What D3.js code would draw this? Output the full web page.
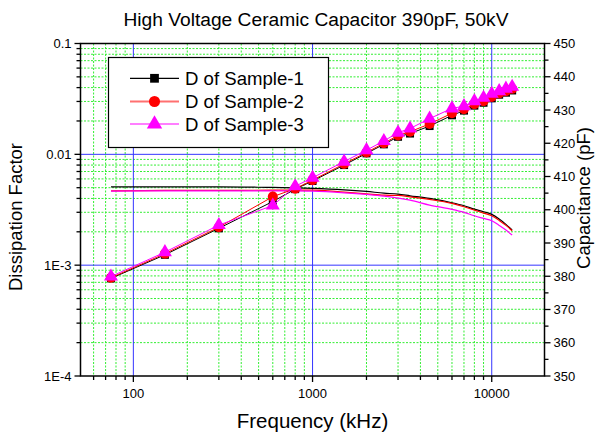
<!DOCTYPE html>
<html><head><meta charset="utf-8">
<script src="https://cdn.jsdelivr.net/npm/d3@7"></script>
<style>body{margin:0;background:#fff}svg{display:block}text{font-family:"Liberation Sans",Arial,sans-serif;fill:#000}</style>
</head><body>
<svg id="c" width="595" height="436"></svg>
<script>
const freq = [75,150,300,600,800,1000,1500,2000,2500,3000,3500,4500,6000,7000,8000,9000,10000,11000,12000,13000];
const dSample1 = [7.6e-4,1.24e-3,2.15e-3,3.75e-3,4.85e-3,5.75e-3,8.0e-3,0.0102,0.0123,0.0144,0.0154,0.018,0.0225,0.0248,0.0275,0.0292,0.032,0.0345,0.036,0.0377];
const dSample2 = [7.7e-4,1.27e-3,2.2e-3,4.15e-3,4.9e-3,5.85e-3,8.2e-3,0.0104,0.0126,0.0148,0.016,0.0188,0.0235,0.0256,0.0284,0.0302,0.033,0.0355,0.0372,0.039];
const dSample3 = [7.9e-4,1.31e-3,2.3e-3,3.45e-3,5.15e-3,6.15e-3,8.6e-3,0.0109,0.0132,0.0157,0.0171,0.021,0.026,0.0272,0.0302,0.0324,0.0352,0.0372,0.0391,0.0407];
const cSample1 = [406.9,406.9,406.9,406.7,406.6,406.45,406.0,405.5,405.0,404.7,404.2,403.4,402.1,401.2,400.2,399.4,398.6,397.2,395.6,393.9];
const cSample2 = [405.7,405.8,405.8,405.9,405.9,405.9,405.3,404.8,404.4,404.3,403.9,403.1,401.9,400.9,399.9,399.0,398.2,396.8,395.3,393.7];
const cSample3 = [405.6,405.7,405.7,405.7,405.7,405.6,405.1,404.6,404.1,403.5,402.9,401.4,400.1,399.2,398.2,397.4,396.7,395.3,393.9,392.4];
const seriesNames = ["D of Sample-1","D of Sample-2","D of Sample-3"];
const yLeftTicks = [1e-4,1e-3,0.01,0.1];
const yLeftLabels = ["1E-4","1E-3","0.01","0.1"];
const xTicks = [100,1000,10000];
const yRightTicks = [350,360,370,380,390,400,410,420,430,440,450];
const title = "High Voltage Ceramic Capacitor 390pF, 50kV";
const xTitle = "Frequency (kHz)";
const yTitle = "Dissipation Factor";
const yRTitle = "Capacitance (pF)";

const L=80.5, R=544.5, T=43.5, B=376;
const x = d3.scaleLog().domain([50.7,19700]).range([L,R]);
const y = d3.scaleLog().domain([1e-4,0.1]).range([B,T]);
const yR = d3.scaleLinear().domain([350,450]).range([B,T]);
const svg = d3.select("#c");

const xMinor=[], yMinor=[];
for (let dec=10; dec<=10000; dec*=10) for (let k=2;k<=9;k++){const v=dec*k; if(v>x.domain()[0]&&v<x.domain()[1]) xMinor.push(v);}
for (let dec=1e-4; dec<0.1; dec*=10) for (let k=2;k<=9;k++){yMinor.push(dec*k);}

const g = svg.append("g");
g.selectAll(".gx").data(xMinor).join("line").attr("x1",d=>x(d)).attr("x2",d=>x(d)).attr("y1",T).attr("y2",B)
 .attr("stroke","#33ee33").attr("stroke-width",1).attr("stroke-dasharray","2,1.5");
g.selectAll(".gy").data(yMinor).join("line").attr("y1",d=>y(d)).attr("y2",d=>y(d)).attr("x1",L).attr("x2",R)
 .attr("stroke","#33ee33").attr("stroke-width",1).attr("stroke-dasharray","2,1.5");
g.selectAll(".bx").data(xTicks).join("line").attr("x1",d=>x(d)).attr("x2",d=>x(d)).attr("y1",T).attr("y2",B)
 .attr("stroke","#3535ff").attr("stroke-width",1);
g.selectAll(".by").data([1e-3,0.01]).join("line").attr("y1",d=>y(d)).attr("y2",d=>y(d)).attr("x1",L).attr("x2",R)
 .attr("stroke","#3535ff").attr("stroke-width",1);

const capLine = d3.line().x((d,i)=>x(freq[i])).y(d=>yR(d)).curve(d3.curveMonotoneX);
[[cSample1,"#000"],[cSample2,"#ff0000"],[cSample3,"#ff00ff"]].forEach(([arr,col])=>{
  svg.append("path").attr("d",capLine(arr)).attr("fill","none").attr("stroke",col).attr("stroke-width",1.2);
});

const dLine = d3.line().x((d,i)=>x(freq[i])).y(d=>y(d));
const cols=["#000","#ff0000","#ff00ff"];
const syms=[d3.symbolSquare,d3.symbolCircle,d3.symbolTriangle];
const sizes=[64,80,85];
[dSample1,dSample2,dSample3].forEach((arr,si)=>{
  svg.append("path").attr("d",dLine(arr)).attr("fill","none").attr("stroke",cols[si]).attr("stroke-width",1);
  svg.append("g").selectAll("path").data(arr).join("path")
    .attr("transform",(d,i)=>`translate(${x(freq[i])},${y(d)})`)
    .attr("d",d3.symbol().type(syms[si]).size(sizes[si])).attr("fill",cols[si]);
});

svg.append("rect").attr("x",L).attr("y",T).attr("width",R-L).attr("height",B-T).attr("fill","none").attr("stroke","#000").attr("stroke-width",1.5);

const ax = svg.append("g").attr("stroke","#000").attr("stroke-width",1.3);
ax.selectAll(".lt").data(yLeftTicks).join("line").attr("x1",L-6).attr("x2",L).attr("y1",d=>y(d)).attr("y2",d=>y(d));
ax.selectAll(".lm").data(yMinor).join("line").attr("x1",L-4).attr("x2",L).attr("y1",d=>y(d)).attr("y2",d=>y(d));
ax.selectAll(".bt").data(xTicks).join("line").attr("y1",B).attr("y2",B+6).attr("x1",d=>x(d)).attr("x2",d=>x(d));
ax.selectAll(".bm").data(xMinor).join("line").attr("y1",B).attr("y2",B+4).attr("x1",d=>x(d)).attr("x2",d=>x(d));
ax.selectAll(".rt").data(yRightTicks).join("line").attr("x1",R).attr("x2",R+6).attr("y1",d=>yR(d)).attr("y2",d=>yR(d));
ax.selectAll(".rm").data(d3.range(355,450,10)).join("line").attr("x1",R).attr("x2",R+4).attr("y1",d=>yR(d)).attr("y2",d=>yR(d));

svg.append("g").selectAll("text").data(yLeftTicks).join("text").attr("x",L-9).attr("y",d=>y(d)).attr("dy","0.35em")
  .attr("text-anchor","end").attr("font-size",13).text((d,i)=>yLeftLabels[i]);
svg.append("g").selectAll("text").data(xTicks).join("text").attr("x",d=>x(d)).attr("y",398)
  .attr("text-anchor","middle").attr("font-size",13).text(d=>d3.format("d")(d));
svg.append("g").selectAll("text").data(yRightTicks).join("text").attr("x",R+9).attr("y",d=>yR(d)).attr("dy","0.35em")
  .attr("font-size",13).text(d=>d);

svg.append("text").attr("x",316).attr("y",26).attr("text-anchor","middle").attr("font-size",19.2).text(title);
svg.append("text").attr("x",312.5).attr("y",428).attr("text-anchor","middle").attr("font-size",20.5).text(xTitle);
svg.append("text").attr("transform","translate(22,217) rotate(-90)").attr("text-anchor","middle").attr("font-size",18.5).text(yTitle);
svg.append("text").attr("transform","translate(589.5,198) rotate(-90)").attr("text-anchor","middle").attr("font-size",18.5).text(yRTitle);

const lg = svg.append("g");
lg.append("rect").attr("x",108.5).attr("y",57.5).attr("width",220).attr("height",90).attr("fill","#fff").attr("stroke","#000").attr("stroke-width",1.2);
const rowsY=[78.3,101.5,124];
seriesNames.forEach((n,i)=>{
  lg.append("line").attr("x1",130).attr("x2",179).attr("y1",rowsY[i]).attr("y2",rowsY[i]).attr("stroke",i==1?"#ff7070":cols[i]).attr("stroke-width",i==1?2:1.2);
  lg.append("path").attr("transform",`translate(154.5,${rowsY[i]})`).attr("d",d3.symbol().type(syms[i]).size(sizes[i]*1.2)).attr("fill",cols[i]);
  lg.append("text").attr("x",185).attr("y",rowsY[i]).attr("dy","0.36em").attr("font-size",18.6).text(n);
});
</script>
</body></html>
